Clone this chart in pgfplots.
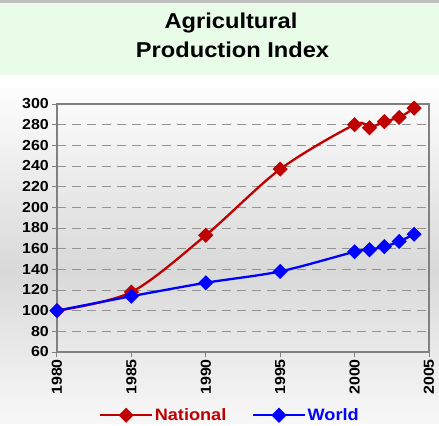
\documentclass[border=0pt]{standalone}
\usepackage{pgfplots}
\pgfplotsset{compat=1.18}
\usepackage{fontspec}
\setmainfont{Liberation Sans}[FakeStretch=1.1]
\definecolor{natred}{HTML}{C00000}
\definecolor{wblue}{HTML}{0000FF}
\definecolor{titlegreen}{HTML}{E8FCE8}
\definecolor{axgray}{HTML}{808080}
\begin{document}
\begin{tikzpicture}[x=1pt,y=1pt]
% background
\shade[top color=white, bottom color=black!15] (0,-80) rectangle (439,-270);
\shade[top color=black!15, bottom color=black!3] (0,-270) rectangle (439,-423);
\fill[white] (0,-75) rectangle (439,-80);
\fill[titlegreen] (0,0) rectangle (439,-75);
\fill[black!25] (0,0) rectangle (439,-2.5);
\node[font=\bfseries\fontsize{21.5}{29}\selectfont, anchor=base] at (231,-28) {Agricultural};
\node[font=\bfseries\fontsize{21.5}{29}\selectfont, anchor=base] at (232.5,-57) {Production Index};
\begin{axis}[
  at={(57pt,-352pt)}, anchor=south west,
  scale only axis, width=372pt, height=248pt,
  xmin=1980, xmax=2005, ymin=60, ymax=300,
  xtick={1980,1985,1990,1995,2000,2005},
  ytick={60,80,...,300},
  axis line style={axgray, line width=2.4pt},
  tick style={axgray, line width=1pt},
  major tick length=5pt,
  tick align=outside, tick pos=left,
  ymajorgrids,
  grid style={axgray!85, dash pattern=on 9pt off 6pt, line width=0.8pt},
  ticklabel style={font=\bfseries\fontsize{14.5}{16}\selectfont},
  /pgf/number format/assume math mode=true,
  xticklabel style={rotate=90, anchor=east, inner sep=2pt, /pgf/number format/1000 sep={}},
  yticklabel style={inner sep=2pt, xshift=-1pt},
  axis background/.style={fill=none},
  legend columns=2,
  legend style={at={(0.464,-0.255)}, anchor=center, draw=none, fill=none,
    font=\bfseries\fontsize{16.5}{18}\selectfont,
    /tikz/every even column/.append style={column sep=24pt},
    nodes={inner sep=1.5pt}},
  legend image code/.code={
    \draw[#1, line width=2.3pt] (0pt,0pt) -- (52pt,0pt);
    \draw[#1, mark repeat=1] plot coordinates {(26pt,0pt)};
  },
]
\addplot[natred, line width=2.3pt, smooth, tension=0.5, mark=square*, mark size=4.2pt, mark options={solid, fill=natred, rotate=45}]
coordinates {(1980,100) (1985,118) (1990,173) (1995,237) (2000,280) (2001,277) (2002,283) (2003,287) (2004,296)};
\addplot[wblue, line width=2.3pt, smooth, tension=0.5, mark=square*, mark size=4.2pt, mark options={solid, fill=wblue, rotate=45}]
coordinates {(1980,100) (1985,114) (1990,127) (1995,138) (2000,157) (2001,159) (2002,162) (2003,167) (2004,174)};
\legend{\textcolor{natred}{National}, \textcolor{wblue}{World}}
\end{axis}
\end{tikzpicture}
\end{document}
